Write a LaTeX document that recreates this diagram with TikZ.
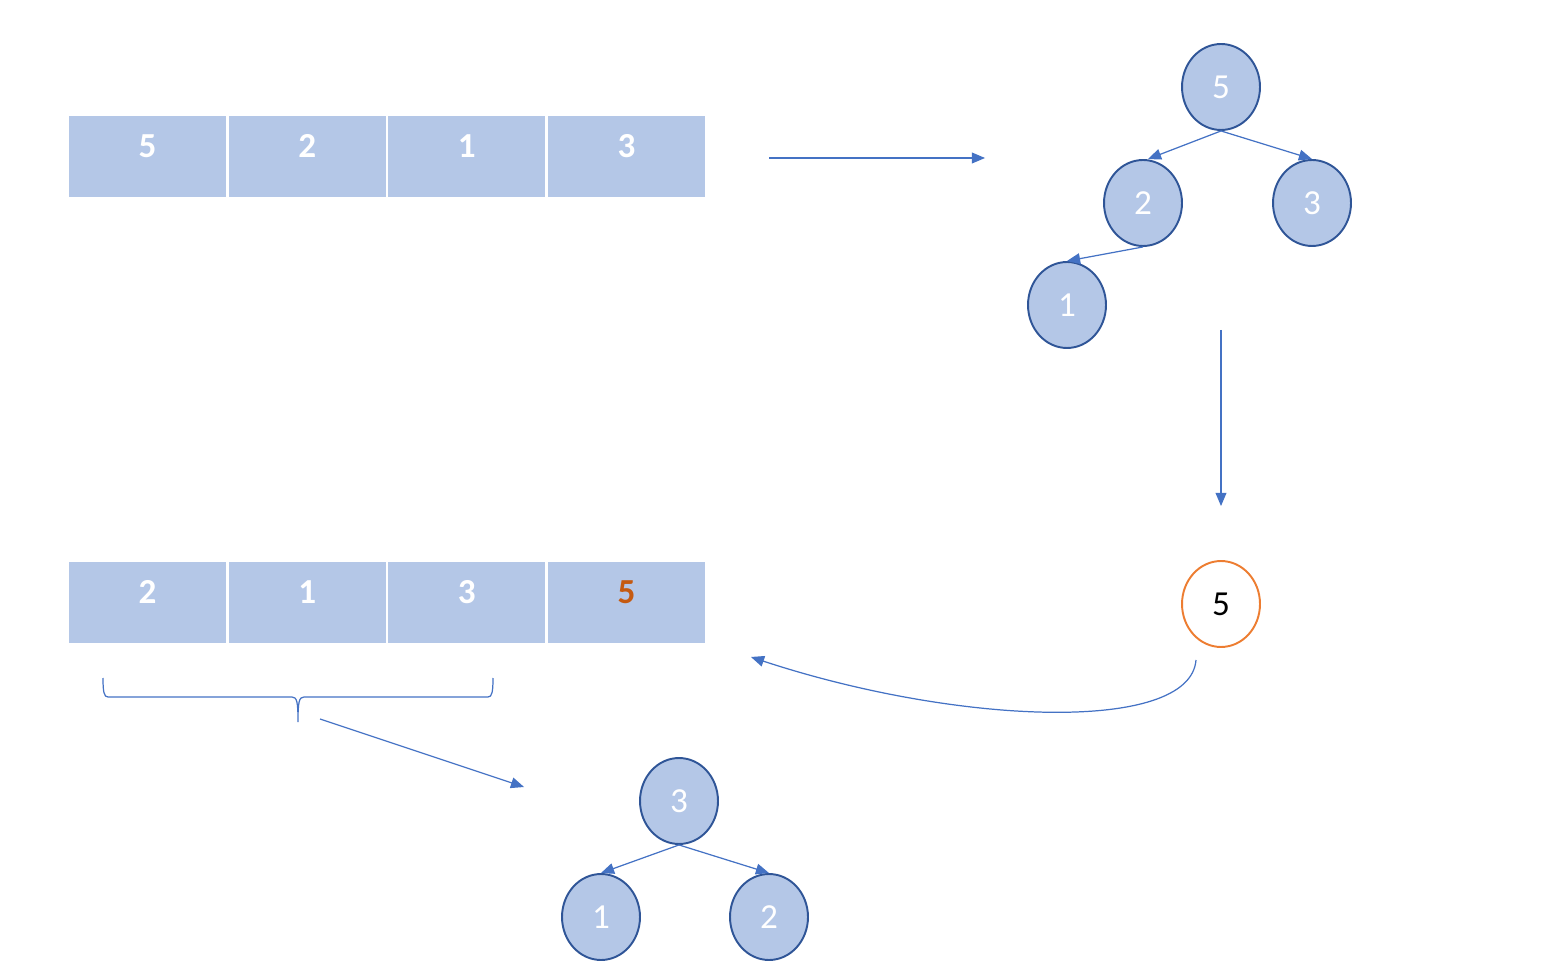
\documentclass[tikz,border=0pt]{standalone}
\usepackage{fontspec}
\setmainfont{Carlito}
\usepackage{tikz}
\usetikzlibrary{arrows}
\usetikzlibrary{shapes.geometric, positioning, calc}
\usepackage{xcolor}
\definecolor{cellfill}{HTML}{B4C7E7}
\definecolor{nodeedge}{HTML}{2F5597}
\definecolor{linkblue}{HTML}{4472C4}
\definecolor{popedge}{HTML}{ED7D31}
\definecolor{sorted}{HTML}{C55A11}

\begin{document}
\begin{tikzpicture}[x=0.02cm, y=-0.02cm,
        cell/.style={rectangle, fill=cellfill, text=white, inner sep=0pt,
                minimum width=3.14cm, minimum height=1.62cm,
                font=\fontsize{20}{24}\selectfont\bfseries,
                text height=0.7em, text depth=0.6em},
        heapnode/.style={ellipse, fill=cellfill, draw=nodeedge, line width=1.1pt, text=white,
                minimum width=1.56cm, minimum height=1.72cm, inner sep=0pt,
                font=\fontsize{20}{24}\selectfont},
        link/.style={linkblue, line width=0.7pt, -triangle 45}]
        \useasboundingbox (0, 0) rectangle (1555, 979);

        % array before
        \node[cell] (a1) at (147.5, 156.5) {5};
        \node[cell, right=0.04cm of a1] (a2) {2};
        \node[cell, right=0.04cm of a2] (a3) {1};
        \node[cell, right=0.04cm of a3] (a4) {3};

        % heap
        \node[heapnode] (h5) at (1221, 87) {5};
        \node[heapnode] (h2) at (1143, 203) {2};
        \node[heapnode] (h3) at (1312, 203) {3};
        \node[heapnode] (h1) at (1067, 305) {1};

        \draw[link] (h5.south) -- ([xshift=0.1cm]h2.north);
        \draw[link] (h5.south) -- (h3.north);
        \draw[link] (h2.south) -- (h1.north);

        \coordinate (build from) at (769, 158);
        \coordinate (build to) at (985, 158);
        \draw[link] (build from) -- (build to);

        % popped root
        \node[heapnode, fill=white, draw=popedge, text=black] (pop) at (1221, 604) {5};

        \coordinate (pop from) at (1221, 330);
        \coordinate (pop to) at (1221, 506);
        \draw[link] (pop from) -- (pop to);

        % array after
        \node[cell] (b1) at (147.5, 602.5) {2};
        \node[cell, right=0.04cm of b1] (b2) {1};
        \node[cell, right=0.04cm of b2] (b3) {3};
        \node[cell, right=0.04cm of b3, text=sorted] (b4) {5};

        \coordinate (back from) at (1196, 660);
        \coordinate (back to) at (751, 657);
        \draw[link] (back from) .. controls (1190, 735) and (950, 725) .. (back to);

        % rest of the array
        \draw[linkblue, line width=0.7pt]
                (103, 678) .. controls (103, 692) and (104, 697) .. (108, 697) -- (292, 697)
                .. controls (297, 697) and (298, 702) .. (298, 722)
                .. controls (298, 702) and (299, 697) .. (304, 697) -- (488, 697)
                .. controls (492, 697) and (493, 692) .. (493, 678);

        \coordinate (rest from) at (320, 719);
        \coordinate (rest to) at (524, 787);
        \draw[link] (rest from) -- (rest to);

        \node[heapnode] (r3) at (679, 801) {3};
        \node[heapnode] (r1) at (601, 917) {1};
        \node[heapnode] (r2) at (769, 917) {2};

        \draw[link] (r3.south) -- (r1.north);
        \draw[link] (r3.south) -- (r2.north);

      \end{tikzpicture}
\end{document}
